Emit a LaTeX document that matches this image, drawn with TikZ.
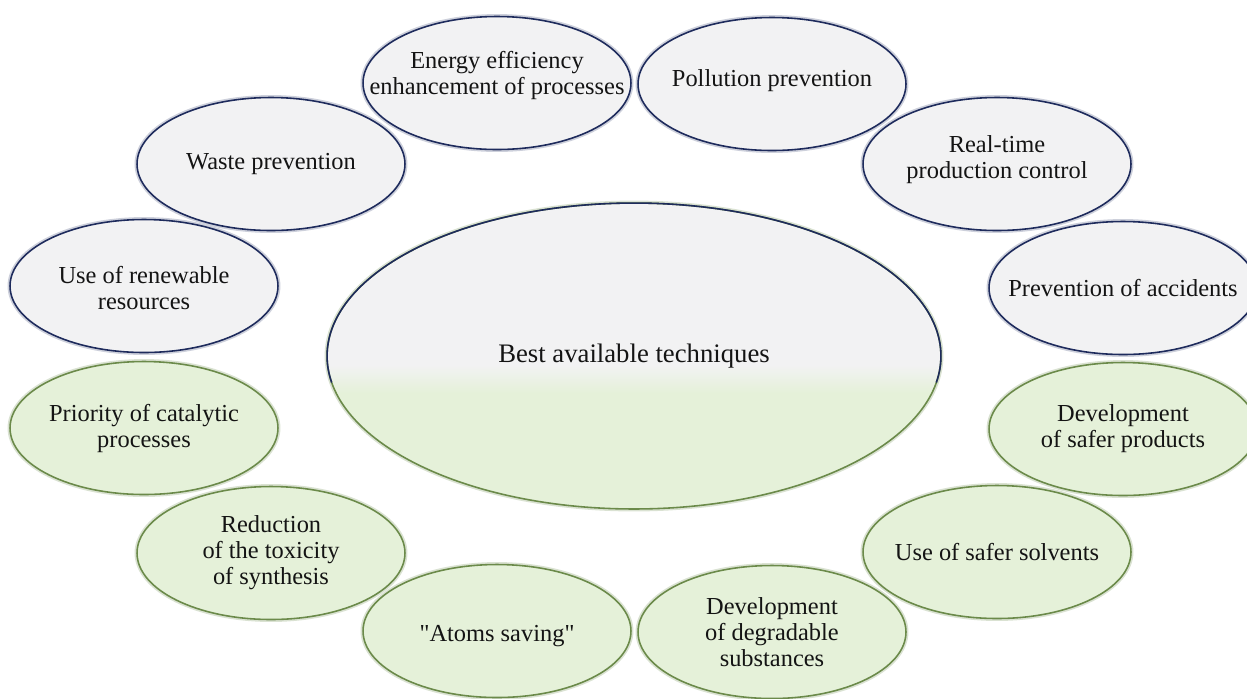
\documentclass[tikz,border=0pt]{standalone}
\usepackage{fontspec}
\setmainfont{Liberation Serif}[Ligatures=TeXOff]
\usetikzlibrary{shapes.geometric}

\definecolor{navyline}{HTML}{1E2B5C}
\definecolor{greenline}{HTML}{6B8A4A}
\definecolor{grayfill}{HTML}{F2F2F3}
\definecolor{greenfill}{HTML}{E5F1D9}
\definecolor{inktext}{HTML}{141414}

% grey upper half fading into green lower half (path spans 25bp..75bp)
\pgfdeclareverticalshading{coreshade}{100bp}{%
  color(0bp)=(greenfill); color(44bp)=(greenfill);
  color(48.5bp)=(grayfill); color(100bp)=(grayfill)}

\tikzset{
  bubble/.style={ellipse, minimum width=5.36cm, minimum height=2.66cm,
    inner sep=0pt, outer sep=0pt},
  bluebubble/.style={bubble, fill=grayfill, draw=navyline, line width=0.9pt,
    preaction={draw=navyline!22, line width=2.8pt}},
  greenbubble/.style={bubble, fill=greenfill, draw=greenline, line width=0.9pt,
    preaction={draw=greenline!25, line width=2.8pt}},
  caption/.style={align=center, inner sep=0pt, text=inktext,
    font=\fontsize{13.9}{14.8}\selectfont},
  corecaption/.style={caption, font=\fontsize{15.2}{16}\selectfont}
}

\begin{document}
\begin{tikzpicture}[x=0.02cm, y=-0.02cm]
\useasboundingbox (0,0) rectangle (1247,698);

% central ellipse
\node[ellipse, minimum width=12.28cm, minimum height=6.12cm, inner sep=0pt,
      outer sep=0pt, shading=coreshade,
      preaction={draw=greenline!25, line width=2.8pt},
      draw=greenline, line width=0.9pt] (core) at (634,356) {};
\draw[navyline, line width=0.9pt] (core.east)
  arc[start angle=0, end angle=190, x radius=6.14cm, y radius=3.06cm];
\draw[navyline, line width=0.9pt] (core.east)
  arc[start angle=0, end angle=-10, x radius=6.14cm, y radius=3.06cm];
\node[corecaption] (tcore) at (core.center) {Best available techniques};

% outer ring, upper part
\node[bluebubble] (energy) at (497,83) {};
\node[caption] (tenergy) at ([yshift=0.16cm]energy.center)
  {Energy efficiency\\enhancement of processes};

\node[bluebubble] (pollution) at (772,84) {};
\node[caption] (tpollution) at ([yshift=0.06cm]pollution.center) {Pollution prevention};

\node[bluebubble] (realtime) at (997,164) {};
\node[caption] (trealtime) at ([yshift=0.08cm]realtime.center) {Real-time\\production control};

\node[bluebubble] (accidents) at (1123,288) {};
\node[caption] (taccidents) at (accidents.center) {Prevention of accidents};

\node[bluebubble] (renew) at (144,286) {};
\node[caption] (trenew) at ([yshift=-0.05cm]renew.center) {Use of renewable\\resources};

\node[bluebubble] (waste) at (271,164) {};
\node[caption] (twaste) at (waste.center) {Waste prevention};

% outer ring, lower part
\node[greenbubble] (saferprod) at (1123,429) {};
\node[caption] (tsaferprod) at (saferprod.center) {Development\\of safer products};

\node[greenbubble] (solvents) at (997,552) {};
\node[caption] (tsolvents) at (solvents.center) {Use of safer solvents};

\node[greenbubble] (degrad) at (772,632) {};
\node[caption] (tdegrad) at (degrad.center) {Development\\of degradable\\substances};

\node[greenbubble] (atoms) at (497,631) {};
\node[caption] (tatoms) at ([yshift=-0.1cm]atoms.center) {"Atoms saving"};

\node[greenbubble] (reduction) at (271,553) {};
\node[caption] (treduction) at (reduction.center) {Reduction\\of the toxicity\\of synthesis};

\node[greenbubble] (priority) at (144,428) {};
\node[caption] (tpriority) at (priority.center) {Priority of catalytic\\processes};
\end{tikzpicture}
\end{document}
